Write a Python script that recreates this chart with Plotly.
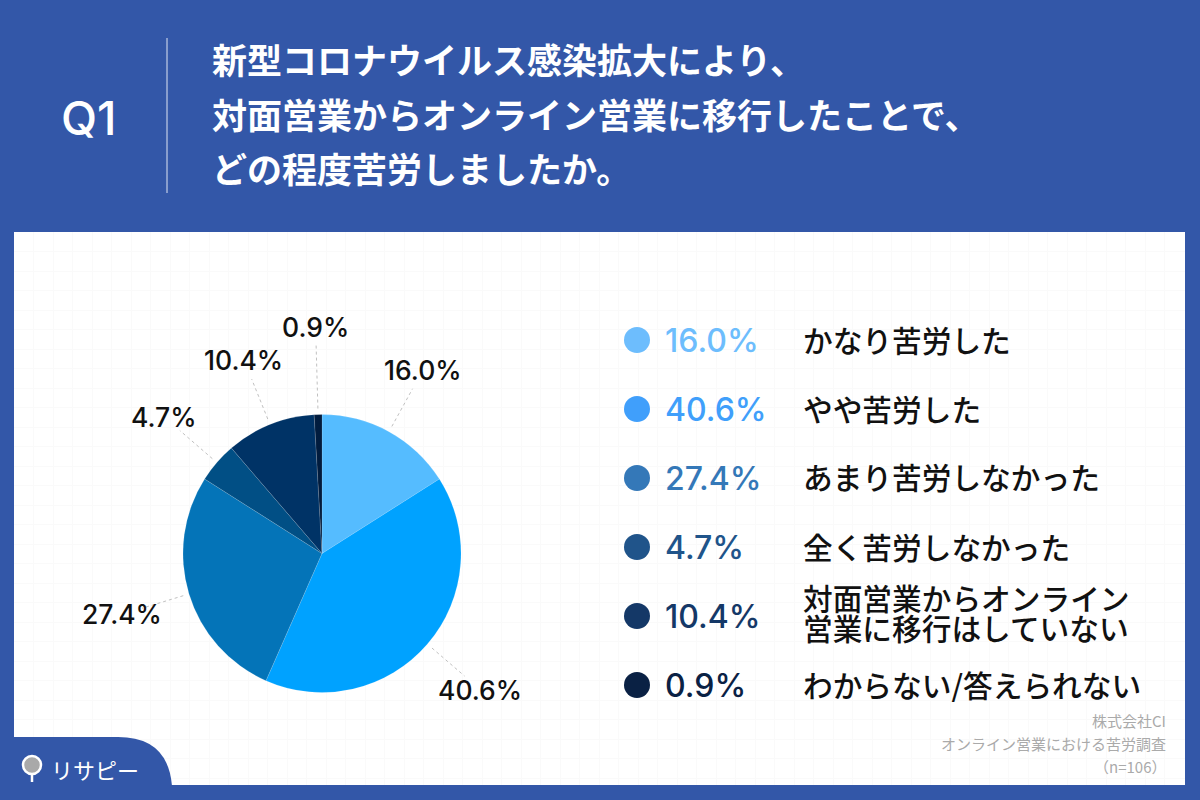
import math

import plotly.graph_objects as go

W, H = 1200, 800
BLUE = "#3357a8"
JP = "Noto Sans CJK JP"
LATIN = "Inter"

title_lines = [
    "新型コロナウイルス感染拡大により、",
    "対面営業からオンライン営業に移行したことで、",
    "どの程度苦労しましたか。",
]
categories = [
    ["かなり苦労した"],
    ["やや苦労した"],
    ["あまり苦労しなかった"],
    ["全く苦労しなかった"],
    ["対面営業からオンライン", "営業に移行はしていない"],
    ["わからない/答えられない"],
]
values = [16.0, 40.6, 27.4, 4.7, 10.4, 0.9]
slice_colors = ["#55bcff", "#00a2ff", "#0474b8", "#014f85", "#003366", "#011c3e"]
legend_colors = ["#6dbdfd", "#409ffb", "#3478b8", "#20548a", "#143867", "#0a2144"]
source_lines = ["株式会社CI", "オンライン営業における苦労調査", "（n=106）"]

# pie geometry in page pixels
CX, CY, R = 322, 553.5, 139


def px(x):
    return x / W


def py(y):
    return 1 - y / H


annotations = []


def add_text(x, y, text, size, color, family=JP, weight=400, anchor="left"):
    annotations.append(
        dict(
            x=px(x), y=py(y), xref="paper", yref="paper", text=text, showarrow=False,
            xanchor=anchor, yanchor="middle", borderpad=0,
            font=dict(family=family, size=size, color=color, weight=weight),
        )
    )


shapes = []


def add_line(x0, y0, x1, y1, color, width, dash="solid"):
    shapes.append(
        dict(
            type="line", xref="paper", yref="paper",
            x0=px(x0), y0=py(y0), x1=px(x1), y1=py(y1),
            line=dict(color=color, width=width, dash=dash),
        )
    )


def add_circle(x, y, r, fill, line_color=None, line_width=0):
    shapes.append(
        dict(
            type="circle", xref="paper", yref="paper",
            x0=px(x - r), y0=py(y - r), x1=px(x + r), y1=py(y + r),
            fillcolor=fill, line=dict(color=line_color or fill, width=line_width),
        )
    )


# header
add_text(89, 117, "Q1", 47, "white", LATIN, 500, "center")
add_line(167, 38, 167, 193, "#dfe5f2", 1)
for y, line in zip([59, 114, 168], title_lines):
    add_text(211, y, line, 35, "white", JP, 700)

# pie labels and leader lines, placed from the slice mid angles
cum = 0
for val in values:
    mid = math.radians((cum + val / 2) * 3.6)
    cum += val
    far = val < 1
    r_label = 227 if far else 209
    r_end = 210 if far else 188
    sin_a, cos_a = math.sin(mid), math.cos(mid)
    add_text(CX + r_label * sin_a, CY - r_label * cos_a, f"{val:.1f}%", 26.5, "#111111", LATIN, 500, "center")
    add_line(CX + 145 * sin_a, CY - 145 * cos_a, CX + r_end * sin_a, CY - r_end * cos_a, "#b0b0b0", 0.8, "dot")

# legend
for i, (val, col, label) in enumerate(zip(values, legend_colors, categories)):
    y = 340 + 69 * i
    add_circle(637, y, 13, col)
    add_text(664, y, f"{val:.1f}%", 32, col, LATIN, 500)
    if len(label) == 1:
        add_text(801.5, y - 1, label[0], 29.7, "#111111", JP, 500)
    else:
        add_text(801.5, y - 19, label[0], 29.7, "#111111", JP, 500)
        add_text(801.5, y + 11, label[1], 29.7, "#111111", JP, 500)

# source note
add_text(1167, 720, source_lines[0], 15, "#aaaaaa", JP, 400, "right")
add_text(1167, 743, source_lines[1], 15, "#aaaaaa", JP, 400, "right")
add_text(1167, 766, source_lines[2], 15, "#aaaaaa", JP, 400, "right")

# logo tab in the bottom left corner
shapes.append(
    dict(
        type="path", xref="paper", yref="paper", fillcolor=BLUE, line=dict(width=0),
        path=(
            f"M {px(10)} {py(737)} L {px(118)} {py(737)} "
            f"Q {px(168)} {py(737)} {px(172)} {py(786)} "
            f"L {px(10)} {py(786)} Z"
        ),
    )
)
add_circle(32, 765, 9, "#a9a9a9", "white", 2.5)
add_line(32, 775, 32, 782, "white", 2.5)
add_text(50, 769, "リサピー", 22, "white", JP, 400)

fig = go.Figure(
    go.Pie(
        values=values,
        labels=[" ".join(c) for c in categories],
        sort=False,
        direction="clockwise",
        rotation=0,
        textinfo="none",
        marker=dict(colors=slice_colors, line=dict(color="rgba(255,255,255,0.25)", width=0.5)),
        domain=dict(x=[px(CX - R), px(CX + R)], y=[py(CY + R), py(CY - R)]),
        showlegend=False,
    )
)
# empty trace so the axes exist and draw the white panel with its faint grid
fig.add_trace(go.Scatter(x=[None], y=[None], showlegend=False, hoverinfo="skip"))

grid = dict(
    showgrid=True, gridcolor="#fafafa", gridwidth=1, zeroline=False,
    showticklabels=False, ticks="", showline=False, fixedrange=True,
)
fig.update_layout(
    width=W,
    height=H,
    margin=dict(l=0, r=0, t=0, b=0),
    paper_bgcolor=BLUE,
    plot_bgcolor="white",
    xaxis=dict(grid, domain=[px(14), px(1185)], range=[14, 1185], dtick=19.5, tick0=14),
    yaxis=dict(grid, domain=[py(785), py(232)], range=[785, 232], dtick=19.5, tick0=232),
    annotations=annotations,
    shapes=shapes,
)

# the page's default body margin would push the figure 8px off the corner
fig.write_html(
    "out.html",
    config={"displayModeBar": False},
    post_script="document.body.style.margin = '0';",
)
